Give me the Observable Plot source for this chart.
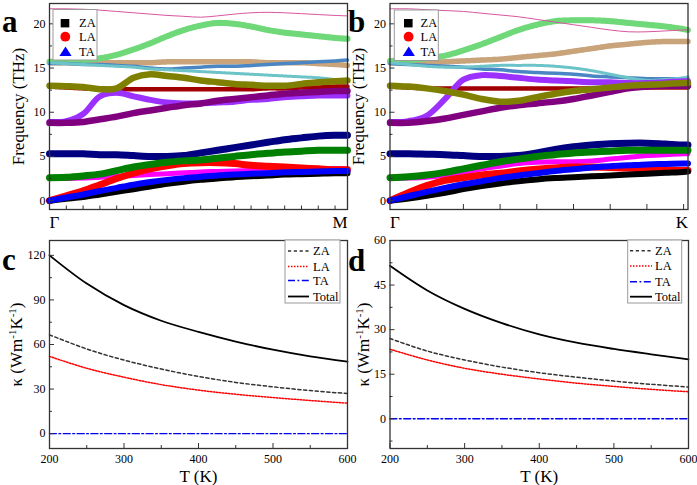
<!DOCTYPE html>
<html><head><meta charset="utf-8">
<script src="https://cdn.jsdelivr.net/npm/d3@7"></script>
<script src="https://cdn.jsdelivr.net/npm/@observablehq/plot@0.6"></script>
<style>
body{margin:0;background:#fff;}
#fig{position:relative;width:697px;height:485px;overflow:hidden;background:#fff;}
#fig svg{font-family:'Liberation Serif','Times New Roman',serif !important;background:transparent !important;overflow:visible !important;}
#fig svg text{font-family:'Liberation Serif','Times New Roman',serif !important;}
</style></head><body><div id="fig"></div>
<script>
// ---------- data: panel a (Γ–M) ----------
const aK = [0,0.05,0.1,0.15,0.2,0.25,0.3,0.35,0.4,0.45,0.5,0.55,0.6,0.65,0.7,0.75,0.8,0.85,0.887];
const aPink = [21.7,21.7,21.65,21.55,21.4,21.25,21.1,20.95,20.85,20.75,20.9,21.1,21.25,21.3,21.25,21.15,21.05,20.95,20.9];
const aLightGreen = [15.7,15.8,15.9,16.1,16.5,17.1,17.8,18.6,19.3,19.8,20.1,20.0,19.7,19.3,19.0,18.8,18.6,18.4,18.3];
const aTan = [15.6,15.6,15.6,15.6,15.6,15.6,15.6,15.7,15.7,15.7,15.7,15.7,15.7,15.6,15.6,15.6,15.5,15.4,15.3];
const aSteel = [15.5,15.5,15.4,15.4,15.3,15.2,15.0,14.9,15.0,15.1,15.2,15.2,15.3,15.4,15.5,15.6,15.7,15.8,15.9];
const aCyan = [15.6,15.5,15.4,15.3,15.2,15.1,14.9,14.8,14.7,14.6,14.5,14.4,14.3,14.2,14.1,14.0,13.9,13.7,13.6];
const aOlive = [13.0,12.95,12.85,12.6,12.7,13.9,14.3,14.1,13.9,13.6,13.4,13.2,13.1,13.0,13.0,13.2,13.4,13.5,13.6];
const aDarkRed = [12.9,12.8,12.7,12.7,12.6,12.6,12.6,12.6,12.6,12.6,12.6,12.6,12.6,12.7,12.7,12.8,12.8,12.9,12.9];
const aViolet = [8.9,9.0,9.8,11.8,12.2,11.8,11.4,11.1,11.0,11.0,11.1,11.2,11.4,11.5,11.7,11.8,11.9,11.9,11.9];
const aPurple = [8.8,8.8,8.9,9.2,9.5,9.9,10.2,10.5,10.8,11.0,11.3,11.5,11.7,11.9,12.1,12.2,12.3,12.4,12.4];
const aNavy = [5.3,5.3,5.3,5.2,5.2,5.1,5.0,5.0,5.1,5.4,5.7,6.0,6.3,6.6,6.9,7.1,7.3,7.4,7.4];
const aGreen = [2.6,2.65,2.8,3.0,3.4,3.8,4.1,4.35,4.5,4.6,4.8,5.0,5.2,5.35,5.5,5.6,5.7,5.7,5.7];
const aRed = [0,0.55,1.1,1.8,2.5,3.1,3.6,3.95,4.2,4.3,4.3,4.2,4.0,3.9,3.8,3.7,3.6,3.5,3.5];
const aMagenta = [2.5,2.5,2.55,2.65,2.75,2.85,2.95,3.05,3.15,3.25,3.3,3.35,3.4,3.45,3.5,3.55,3.6,3.6,3.6];
const aBlue = [0,0.35,0.7,1.1,1.45,1.8,2.1,2.35,2.55,2.7,2.85,2.95,3.05,3.1,3.2,3.25,3.3,3.35,3.35];
const aBlack = [0,0.2,0.4,0.7,1.0,1.3,1.6,1.9,2.15,2.35,2.5,2.65,2.75,2.85,2.95,3.0,3.05,3.1,3.1];

// ---------- data: panel b (Γ–K) ----------
const bK = [0,0.05,0.1,0.15,0.2,0.25,0.3,0.35,0.4,0.45,0.5,0.55,0.6,0.65,0.7,0.75,0.8,0.812];
const bPink = [21.7,21.7,21.6,21.5,21.4,21.2,21.0,20.8,20.5,20.2,19.9,19.6,19.3,19.1,19.1,19.2,19.3,19.3];
const bLightGreen = [15.8,15.9,16.1,16.4,17.0,17.7,18.5,19.3,19.9,20.3,20.4,20.4,20.3,20.1,19.9,19.7,19.4,19.3];
const bTan = [15.6,15.6,15.6,15.7,15.8,15.9,16.0,16.2,16.4,16.6,16.9,17.2,17.5,17.7,17.9,18.0,18.0,18.0];
const bSteel = [15.5,15.4,15.3,15.2,15.1,14.9,14.8,14.6,14.5,14.4,14.3,14.1,14.0,13.9,13.8,13.8,13.8,13.8];
const bCyan = [15.6,15.4,15.2,15.1,15.1,15.2,15.3,15.3,15.3,15.2,15.0,14.7,14.3,13.9,13.6,13.7,13.9,14.0];
const bViolet = [8.9,9.0,9.6,11.5,13.7,14.2,14.1,13.9,13.7,13.6,13.5,13.4,13.4,13.3,13.3,13.4,13.5,13.5];
const bOlive = [13.0,12.9,12.7,12.4,12.0,11.5,11.2,11.3,11.7,12.1,12.4,12.6,12.8,13.0,13.1,13.2,13.3,13.3];
const bDarkRed = [12.9,12.8,12.7,12.7,12.7,12.7,12.7,12.7,12.7,12.7,12.7,12.7,12.7,12.7,12.8,12.8,12.8,12.8];
const bPurple = [8.8,8.8,9.0,9.3,9.7,10.1,10.5,10.8,11.0,11.2,11.5,11.9,12.3,12.7,12.9,13.0,13.0,13.0];
const bNavy = [5.3,5.3,5.25,5.2,5.1,5.0,5.0,5.1,5.4,5.8,6.1,6.3,6.45,6.5,6.5,6.4,6.3,6.3];
const bGreen = [2.6,2.7,2.9,3.2,3.6,4.0,4.4,4.7,5.0,5.2,5.4,5.5,5.6,5.7,5.7,5.7,5.7,5.7];
const bMagenta = [2.5,2.55,2.65,2.9,3.2,3.6,3.9,4.2,4.35,4.4,4.4,4.5,4.7,4.9,5.1,5.2,5.3,5.3];
const bRed = [0,0.9,1.7,2.3,2.6,2.9,3.1,3.35,3.55,3.7,3.8,3.8,3.75,3.7,3.6,3.5,3.4,3.4];
const bBlue = [0,0.5,1.0,1.45,1.85,2.2,2.55,2.85,3.1,3.35,3.55,3.75,3.9,4.0,4.1,4.15,4.2,4.2];
const bBlack = [0,0.25,0.55,0.9,1.3,1.65,1.95,2.2,2.4,2.55,2.65,2.75,2.85,2.95,3.05,3.15,3.25,3.3];

// ---------- data: panels c, d (thermal conductivity) ----------
const T = [200,250,300,350,400,450,500,550,600];
const cZA = [66.5,57,49.5,43.5,38.5,34.5,31.5,29,27];
const cLA = [52,44,38,33,29.3,26.5,24.3,22.3,20.5];
const cTA = [0,0,0,0,0,0,0,0,0];
const cTotal = [120,101,86.5,76,68.5,62,56.5,52,48.5];
const dZA = [27,22.8,19.8,17.4,15.5,14,12.7,11.6,10.7];
const dLA = [23.4,19.8,17,15,13.4,12,10.9,9.9,9.1];
const dTA = [0,0,0,0,0,0,0,0,0];
const dTotal = [51.5,43.2,37,32.2,28.4,25.6,23.5,21.7,20];

// ---------- tick labels ----------
const aPathLabels = ["Γ","M"];
const bPathLabels = ["Γ","K"];
const freqTicks = [0,5,10,15,20];
const freqMinor = [2.5,7.5,12.5,17.5];
const tTicks = [200,300,400,500,600];
const tMinor = [250,350,450,550];
const cTicks = [0,30,60,90,120];
const cMinor = [15,45,75,105];
const dTicks = [0,15,30,45,60];
const dMinor = [-7.5,7.5,22.5,37.5,52.5];
const modeNames = ["ZA","LA","TA","Total"];

// ---------- styles ----------
const FONT = "'Liberation Serif','Times New Roman',serif";
const bandStyle = {
  tan:{color:"#c9a37a",width:5.5,dash:"1.4,0.9"},
  lightgreen:{color:"#6fd878",width:6,dash:"1.6,0.8"},
  steelblue:{color:"#4a86c4",width:3.5},
  cyan:{color:"#6cc4c8",width:3,dash:"1.2,0.9"},
  darkred:{color:"#a00000",width:4.5,dash:"1.6,0.7"},
  violet:{color:"#9b30ff",width:6},
  purple:{color:"#800080",width:6.5},
  olive:{color:"#808000",width:6.5},
  navy:{color:"#000080",width:7},
  magenta:{color:"#ff00ff",width:5},
  red:{color:"#ff0000",width:7},
  green:{color:"#008000",width:7},
  black:{color:"#000000",width:6},
  blue:{color:"#0000ff",width:6},
  pink:{color:"#d9559f",width:1}
};
const bandOrder = ["tan","lightgreen","steelblue","cyan","darkred","violet","purple","olive","navy","magenta","red","green","black","blue","pink"];
const aBands = {pink:aPink,lightgreen:aLightGreen,tan:aTan,steelblue:aSteel,cyan:aCyan,olive:aOlive,darkred:aDarkRed,violet:aViolet,purple:aPurple,navy:aNavy,green:aGreen,red:aRed,magenta:aMagenta,blue:aBlue,black:aBlack};
const bBands = {pink:bPink,lightgreen:bLightGreen,tan:bTan,steelblue:bSteel,cyan:bCyan,olive:bOlive,darkred:bDarkRed,violet:bViolet,purple:bPurple,navy:bNavy,green:bGreen,red:bRed,magenta:bMagenta,blue:bBlue,black:bBlack};

const fig = document.getElementById("fig");
function place(el, left, top){
  el.setAttribute("font-family", FONT);
  el.style.fontFamily = FONT;
  el.style.position="absolute"; el.style.left=left+"px"; el.style.top=top+"px"; fig.appendChild(el);
}
const baseStyle = {fontFamily:FONT, fontSize:"12px", background:"transparent", overflow:"visible", color:"#000"};
const AX = "#333";

function bandPlot({K, bands, labels, xTicks, xTickLen, width, ml, mr}) {
  const xMax = K[K.length-1];
  const marks = bandOrder.map(name => {
    const s = bandStyle[name];
    return Plot.line(bands[name], {x:(d,i)=>K[i], y:d=>d, stroke:s.color, strokeWidth:s.width,
      strokeDasharray:s.dash, curve:"catmull-rom"});
  });
  return Plot.plot({
    width, height:236, marginLeft:ml, marginRight:mr, marginTop:3, marginBottom:27,
    style: baseStyle,
    x:{domain:[0,xMax], label:null},
    y:{domain:[-1,22.3], label:null},
    marks:[
      ...marks,
      Plot.axisY({ticks:freqTicks, tickSize:0, tickPadding:4, label:null, fontSize:12}),
      Plot.axisY({ticks:freqTicks, tickSize:5, dx:5, tickFormat:()=>"", label:null, stroke:AX}),
      Plot.axisY({ticks:freqMinor, tickSize:3, dx:3, tickFormat:()=>"", label:null, stroke:AX}),
      Plot.axisX({ticks:xTicks, tickSize:xTickLen, dy:-xTickLen, tickFormat:()=>"", label:null, stroke:AX}),
      Plot.text([labels[0]], {x:[0], text:d=>d, frameAnchor:"bottom", dy:13.5, textAnchor:"start", lineAnchor:"middle", fontSize:17}),
      Plot.text([labels[1]], {x:[xMax], text:d=>d, frameAnchor:"bottom", dy:13.5, textAnchor:"end", lineAnchor:"middle", fontSize:17}),
      Plot.text(["Frequency (THz)"], {text:d=>d, frameAnchor:"left", dx:-31, rotate:-90, textAnchor:"middle", lineAnchor:"middle", fontSize:17}),
      Plot.frame({stroke:AX, strokeWidth:1.3})
    ]
  });
}

function kappaPlot({za, la, ta, tot, yDomain, yTicks, yMinor, width, ml, mr, labelDx}) {
  const line = (vals, opts) => Plot.line(vals, {x:(d,i)=>T[i], y:d=>d, curve:"catmull-rom", ...opts});
  const svg = Plot.plot({
    width, height:249, marginLeft:ml, marginRight:mr, marginTop:4, marginBottom:37,
    style: baseStyle,
    x:{domain:[200,600], label:null},
    y:{domain:yDomain, label:null},
    marks:[
      line(ta, {stroke:"#0000ee", strokeWidth:1.4, strokeDasharray:"7,2.5,1.8,2.5"}),
      line(la, {stroke:"#ff0000", strokeWidth:1.5, strokeDasharray:"1.5,1.5"}),
      line(za, {stroke:"#333", strokeWidth:1.5, strokeDasharray:"3.2,2.6"}),
      line(tot, {stroke:"#000", strokeWidth:1.8}),
      Plot.axisY({ticks:yTicks, tickSize:0, tickPadding:4, label:null, fontSize:12}),
      Plot.axisY({ticks:yTicks, tickSize:5, dx:5, tickFormat:()=>"", label:null, stroke:AX}),
      Plot.axisY({ticks:yMinor, tickSize:3, dx:3, tickFormat:()=>"", label:null, stroke:AX}),
      Plot.axisX({ticks:tTicks, tickSize:0, tickPadding:6, label:null, fontSize:12}),
      Plot.axisX({ticks:tTicks, tickSize:5, dy:-5, tickFormat:()=>"", label:null, stroke:AX}),
      Plot.axisX({ticks:tMinor, tickSize:3, dy:-3, tickFormat:()=>"", label:null, stroke:AX}),
      Plot.text(["T (K)"], {text:d=>d, frameAnchor:"bottom", dy:28.5, lineAnchor:"middle", textAnchor:"middle", fontSize:17}),
      Plot.text(["KAPPA"], {text:d=>d, frameAnchor:"left", dx:labelDx, rotate:-90, textAnchor:"middle", lineAnchor:"middle", fontSize:17}),
      Plot.frame({stroke:AX, strokeWidth:1.3})
    ]
  });
  d3.select(svg).selectAll("text").filter(function(){ return this.textContent === "KAPPA"; }).each(function(){
    const t = d3.select(this); t.text(null);
    t.append("tspan").text("κ (Wm");
    t.append("tspan").attr("dy","-6").attr("font-size","11").text("-1");
    t.append("tspan").attr("dy","6").text("K");
    t.append("tspan").attr("dy","-6").attr("font-size","11").text("-1");
    t.append("tspan").attr("dy","6").text(")");
  });
  return svg;
}

place(bandPlot({K:aK, bands:aBands, labels:aPathLabels, xTicks:d3.range(1,18).map(i=>i*0.05), xTickLen:3.5, width:350, ml:49, mr:3}), 0, 0);
place(bandPlot({K:bK, bands:bBands, labels:bPathLabels, xTicks:d3.range(1,9).map(i=>i*0.1), xTickLen:5, width:352, ml:44.5, mr:9.5}), 345, 0);
place(kappaPlot({za:cZA, la:cLA, ta:cTA, tot:cTotal, yDomain:[-10,130], yTicks:cTicks, yMinor:cMinor, width:350, ml:49, mr:3, labelDx:-33}), 0, 236);
place(kappaPlot({za:dZA, la:dLA, ta:dTA, tot:dTotal, yDomain:[-10,60], yTicks:dTicks, yMinor:dMinor, width:352, ml:44.5, mr:9, labelDx:-26}), 345, 236);

// ---------- overlay: panel letters and legends ----------
const ov = d3.create("svg").attr("width",697).attr("height",485)
  .style("position","absolute").style("left","0px").style("top","0px")
  .attr("font-family",FONT).style("pointer-events","none");
[["a",2,31.5],["b",348,32],["c",2,270],["d",348,271]].forEach(([t,x,y]) =>
  ov.append("text").attr("x",x).attr("y",y).attr("font-size",31).attr("font-weight","bold").text(t));

function symbolLegend(bx, by, sx, tx) {
  const g = ov.append("g");
  g.append("rect").attr("x",bx).attr("y",by).attr("width",44).attr("height",50.5)
    .attr("fill","#fff").attr("stroke","#999").attr("stroke-width",1);
  g.append("rect").attr("x",sx-4.3).attr("y",19).attr("width",8.6).attr("height",8.4).attr("fill","#000");
  g.append("circle").attr("cx",sx+0.3).attr("cy",36.7).attr("r",4.9).attr("fill","#ff0000");
  g.append("path").attr("d",`M${sx-5.6},56 L${sx+6.6},56 L${sx+0.5},46.5 Z`).attr("fill","#0000ff");
  modeNames.slice(0,3).forEach((n,i) =>
    g.append("text").attr("x",tx).attr("y",[27,41.3,56][i]).attr("font-size",12.5).text(n));
}
symbolLegend(53, 9.5, 65, 79);
symbolLegend(394.3, 10, 408.3, 420.5);

function lineLegend(bx, by, w, lx1, lx2, tx, rows) {
  const g = ov.append("g");
  g.append("rect").attr("x",bx).attr("y",by).attr("width",w).attr("height",63)
    .attr("fill","#fff").attr("stroke","#999").attr("stroke-width",1);
  const st = [{s:"#333",d:"3.2,2.6",w:1.5},{s:"#ff0000",d:"1.5,1.5",w:1.5},{s:"#0000ee",d:"7,2.5,1.8,2.5",w:1.4},{s:"#000",d:null,w:1.8}];
  modeNames.forEach((n,i) => {
    g.append("line").attr("x1",lx1).attr("x2",lx2).attr("y1",rows[i]).attr("y2",rows[i])
      .attr("stroke",st[i].s).attr("stroke-width",st[i].w).attr("stroke-dasharray",st[i].d);
    g.append("text").attr("x",tx).attr("y",rows[i]+4.3).attr("font-size",12.5).text(n);
  });
}
lineLegend(285, 240, 55, 288, 309, 313, [251,266.5,280.5,296.5]);
lineLegend(627.7, 240, 54, 630, 652, 655, [250.7,266,281.7,296.7]);
fig.appendChild(ov.node());
</script></body></html>
